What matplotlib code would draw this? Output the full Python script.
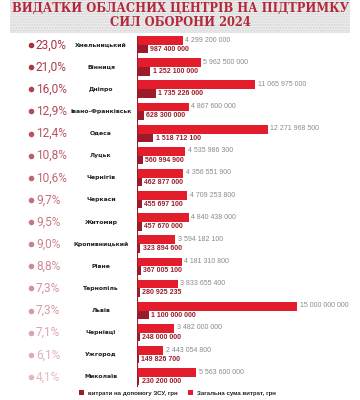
import matplotlib.pyplot as plt
from matplotlib.patches import Rectangle
import matplotlib.colors as mcolors

cities = ["Хмельницький", "Вінниця", "Дніпро", "Івано-Франківськ", "Одеса", "Луцьк",
          "Чернігів", "Черкаси", "Житомир", "Кропивницький", "Рівне", "Тернопіль",
          "Львів", "Чернівці", "Ужгород", "Миколаїв"]
shares = [23.0, 21.0, 16.0, 12.9, 12.4, 10.8, 10.6, 9.7, 9.5, 9.0, 8.8, 7.3, 7.3, 7.1, 6.1, 4.1]
totals = [4299200000, 5962500000, 11065975000, 4867600000, 12271968500, 4535986300,
          4356551900, 4709253800, 4840438000, 3594182100, 4181310800, 3833655400,
          15000000000, 3482000000, 2443054800, 5563600000]
army = [987400000, 1252100000, 1735226000, 628300000, 1518712100, 560994900,
        462877000, 455697100, 457670000, 323894600, 367005100, 280925235,
        1100000000, 248000000, 149826700, 230200000]

RED = "#e31d2b"
DARK = "#9b1b2a"
W, H = 360, 400


def fmt(v):
    return f"{v:,}".replace(",", " ")


fig = plt.figure(figsize=(3.6, 4.0), dpi=100)
fig.patch.set_facecolor("white")

# title band
bg = fig.add_axes([0, 0, 1, 1])
bg.set_xlim(0, W)
bg.set_ylim(H, 0)
bg.axis("off")
bg.add_patch(Rectangle((10, 0), 340, 33, facecolor="#ececec", edgecolor="#d6d6d6",
                       hatch="......", linewidth=0))
bg.text(180, 8, "ВИДАТКИ ОБЛАСНИХ ЦЕНТРІВ НА ПІДТРИМКУ", ha="center", va="center",
        fontsize=8.3, fontweight="bold", family="DejaVu Serif", color="#b3283a")
bg.text(180, 22, "СИЛ ОБОРОНИ 2024", ha="center", va="center",
        fontsize=8.3, fontweight="bold", family="DejaVu Serif", color="#b3283a")

# percentages and city names
pct_cmap = mcolors.LinearSegmentedColormap.from_list("p", ["#a8303f", "#e4b6bd"])
for i, (c, s) in enumerate(zip(cities, shares)):
    y = 45 + 22.13 * i
    col = pct_cmap(i / (len(cities) - 1))
    bg.plot(31, y, "o", color=col, markersize=3)
    bg.text(36, y, f"{s:.1f}%".replace(".", ","), ha="left", va="center",
            fontsize=8.6, family="Roboto", color=col)
    bg.text(101, y, c, ha="center", va="center", fontsize=4.4, fontweight="bold",
            color="#222222")

# legend
bg.add_patch(Rectangle((79, 390), 5, 5, facecolor=DARK, linewidth=0))
bg.text(88, 393, "витрати на допомогу ЗСУ, грн", fontsize=4.4, fontweight="bold",
        family="Liberation Sans", va="center", color="#222222")
bg.add_patch(Rectangle((188, 390), 5, 5, facecolor=RED, linewidth=0))
bg.text(197, 393, "Загальна сума витрат, грн", fontsize=4.4, fontweight="bold",
        family="Liberation Sans", va="center", color="#222222")

# bars
x0, top = 137, 34
ax = fig.add_axes([x0 / W, 1 - (top + 16 * 22.13) / H, (W - x0) / W, 16 * 22.13 / H])
xmax = 15e9 * (W - x0) / 160
ax.set_xlim(0, xmax)
ax.set_ylim(15.5, -0.5)
ax.axis("off")
ypos = list(range(len(cities)))
ax.barh([y - 0.2 for y in ypos], totals, height=0.4, color=RED, linewidth=0)
ax.barh([y + 0.19 for y in ypos], army, height=0.38, color=DARK, linewidth=0)
ax.plot([0, 0], [-0.42, 15.4], color=DARK, linewidth=0.8)
pad = xmax / (W - x0) * 2.5
for y, t, a in zip(ypos, totals, army):
    ax.text(t + pad, y - 0.22, fmt(t), fontsize=5, family="Liberation Sans",
            color="#8a8a8a", va="center")
    ax.text(a + pad, y + 0.2, fmt(a), fontsize=5, family="Liberation Sans",
            color=DARK, fontweight="bold", va="center")

fig.savefig("out.png", dpi=100)
